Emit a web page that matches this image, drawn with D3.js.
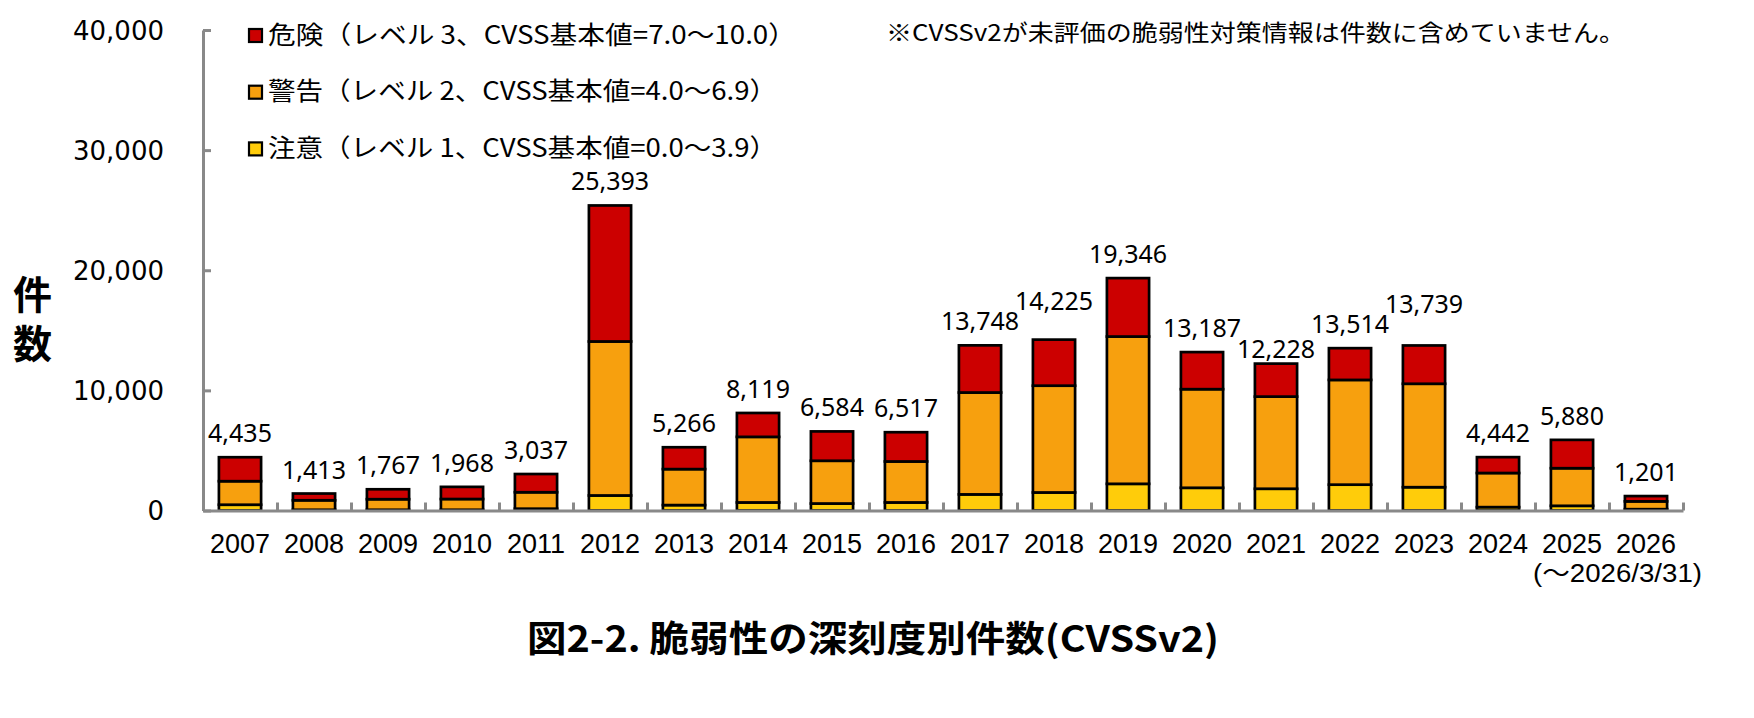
<!DOCTYPE html>
<html>
<head>
<meta charset="utf-8">
<script src="https://cdn.jsdelivr.net/npm/d3@7"></script>
<style>
  html, body { margin: 0; padding: 0; background: #ffffff; }
  svg { display: block; }
</style>
</head>
<body>
<script>
// ---- data ----
const categories = ["2007","2008","2009","2010","2011","2012","2013","2014","2015","2016",
                    "2017","2018","2019","2020","2021","2022","2023","2024","2025","2026"];
const level1 = [480, 60, 60, 60, 150, 1250, 450, 670, 580, 670,
                1340, 1500, 2220, 1890, 1810, 2150, 1940, 280, 390, 110];     // 注意
const level2 = [1960, 790, 880, 895, 1370, 12820, 2995, 5460, 3560, 3410,
                8480, 8890, 12260, 8210, 7670, 8720, 8610, 2840, 3130, 650];  // 警告
const level3 = [1995, 563, 827, 1013, 1517, 11323, 1821, 1989, 2444, 2437,
                3928, 3835, 4866, 3087, 2748, 2644, 3189, 1322, 2360, 441];   // 危険
const totals = [4435, 1413, 1767, 1968, 3037, 25393, 5266, 8119, 6584, 6517,
                13748, 14225, 19346, 13187, 12228, 13514, 13739, 4442, 5880, 1201];
const yTicks = [0, 10000, 20000, 30000, 40000];
const legendLabels = ["危険（レベル 3、CVSS基本値=7.0～10.0）",
                      "警告（レベル 2、CVSS基本値=4.0～6.9）",
                      "注意（レベル 1、CVSS基本値=0.0～3.9）"];
const lastCategoryNote = "(～2026/3/31)";
const yAxisTitle = "件数";
const noteText = "※CVSSv2が未評価の脆弱性対策情報は件数に含めていません。";
const chartTitle = "図2-2. 脆弱性の深刻度別件数(CVSSv2)";

// ---- layout ----
const W = 1754, H = 718;
const plot = { left: 203, right: 1683, top: 30, bottom: 510.5 };
const colors = { l1: "#FFCC0A", l2: "#F7A00E", l3: "#CC0000" };
const axisColor = "#898989";

const svg = d3.select("body").append("svg").attr("width", W).attr("height", H);
svg.append("rect").attr("width", W).attr("height", H).attr("fill", "#fff");

const x = d3.scaleBand().domain(categories).range([plot.left, plot.right])
  .paddingInner(0.43).paddingOuter(0.215);
const y = d3.scaleLinear().domain([0, 40000]).range([plot.bottom, plot.top]);

// stacked data
const rows = categories.map((c, i) => ({ cat: c, l1: level1[i], l2: level2[i], l3: level3[i], total: totals[i] }));
const stack = d3.stack().keys(["l1", "l2", "l3"]);
const series = stack(rows);

// bars
const g = svg.append("g");
series.forEach(s => {
  g.append("g").selectAll("rect").data(s).join("rect")
    .attr("x", d => x(d.data.cat))
    .attr("width", x.bandwidth())
    .attr("y", d => y(d[1]))
    .attr("height", d => Math.max(0, y(d[0]) - y(d[1])))
    .attr("fill", colors[s.key])
    .attr("stroke", "#000")
    .attr("stroke-width", 2.7);
});

// value labels (with simple collision avoidance between neighbours)
const fmt = d3.format(",");
const labels = svg.append("g").selectAll("text").data(rows).join("text")
  .attr("x", d => x(d.cat) + x.bandwidth() / 2)
  .attr("y", d => y(d.total) - 15)
  .attr("text-anchor", "middle")
  .attr("font-family", "'Noto Sans', sans-serif")
  .attr("font-size", 25)
  .attr("fill", "#000")
  .text(d => fmt(d.total));
const lab = labels.nodes().map((n, i) => ({ n, w: n.getComputedTextLength(), x: +n.getAttribute("x"), y: +n.getAttribute("y"), t: rows[i].total }));
for (let i = 1; i < lab.length; i++) {
  const a = lab[i - 1], b = lab[i];
  const hOverlap = Math.abs(b.x - a.x) < (a.w + b.w) / 2 + 2;
  if (hOverlap && Math.abs(b.y - a.y) < 20) {
    if (b.t > a.t) b.y = a.y - 20;
    else b.y = y(b.t) - 6;
    b.n.setAttribute("y", b.y);
  }
}

// y axis
const yAxis = d3.axisLeft(y).tickValues(yTicks).tickFormat(fmt)
  .tickSizeInner(-8).tickSizeOuter(0).tickPadding(39);
const yg = svg.append("g").attr("transform", `translate(${plot.left},0)`).call(yAxis);
yg.select(".domain").attr("stroke", axisColor).attr("stroke-width", 3);
yg.selectAll(".tick line").attr("stroke", axisColor).attr("stroke-width", 3);
yg.selectAll(".tick text")
  .attr("font-family", "'DejaVu Sans', sans-serif")
  .attr("font-size", 26).attr("fill", "#000")
  .attr("dy", "0.36em");

// x axis: line with boundary ticks
const xb = d3.scaleLinear().domain([0, categories.length]).range([plot.left, plot.right]);
const xAxis = d3.axisBottom(xb).ticks(categories.length).tickFormat("")
  .tickSizeInner(-8).tickSizeOuter(0);
const xg = svg.append("g").attr("transform", `translate(0,${plot.bottom})`).call(xAxis);
xg.select(".domain").attr("stroke", axisColor).attr("stroke-width", 3);
xg.selectAll(".tick line").attr("stroke", axisColor).attr("stroke-width", 3);
xg.selectAll(".tick").filter(d => d === 0).remove();

// category labels
svg.append("g").selectAll("text").data(categories).join("text")
  .attr("x", d => x(d) + x.bandwidth() / 2)
  .attr("y", 553)
  .attr("text-anchor", "middle")
  .attr("font-family", "'Liberation Sans', Arial, sans-serif")
  .attr("font-size", 27).attr("fill", "#000")
  .text(d => d);
svg.append("text")
  .attr("x", x(categories[categories.length - 1]) + x.bandwidth() / 2 + 56)
  .attr("y", 582)
  .attr("text-anchor", "end")
  .attr("font-family", "'Liberation Sans', 'Noto Sans CJK JP', sans-serif")
  .attr("font-size", 25).attr("fill", "#000")
  .attr("textLength", 169).attr("lengthAdjust", "spacingAndGlyphs")
  .text(lastCategoryNote);

// y axis title (vertical text)
svg.append("text")
  .attr("x", 32.5).attr("y", 275)
  .attr("writing-mode", "vertical-rl")
  .attr("letter-spacing", 10)
  .attr("font-family", "'Noto Sans CJK JP', sans-serif")
  .attr("font-weight", "bold")
  .attr("font-size", 39).attr("fill", "#000")
  .text(yAxisTitle);

// legend
const legendColors = [colors.l3, colors.l2, colors.l1];
const legendWidths = [528, 509, 509];
const lg = svg.append("g");
legendLabels.forEach((t, i) => {
  const cy = 35.5 + i * 56.7;
  lg.append("rect").attr("x", 249).attr("y", cy - 6.5).attr("width", 13).attr("height", 13)
    .attr("fill", legendColors[i]).attr("stroke", "#000").attr("stroke-width", 2.2);
  lg.append("text").attr("x", 268).attr("y", cy + 8)
    .attr("font-family", "'Noto Sans CJK JP', sans-serif")
    .attr("font-size", 25).attr("fill", "#000")
    .attr("textLength", legendWidths[i]).attr("lengthAdjust", "spacingAndGlyphs")
    .text(t);
});

// note
svg.append("text").attr("x", 886).attr("y", 41)
  .attr("font-family", "'Noto Sans CJK JP', sans-serif")
  .attr("font-size", 23).attr("fill", "#000")
  .attr("textLength", 739).attr("lengthAdjust", "spacingAndGlyphs")
  .text(noteText);

// title
svg.append("text").attr("x", 527).attr("y", 652)
  .attr("font-family", "'Noto Sans CJK JP', sans-serif")
  .attr("font-weight", "bold")
  .attr("font-size", 36).attr("fill", "#000")
  .attr("textLength", 692).attr("lengthAdjust", "spacingAndGlyphs")
  .text(chartTitle);
</script>
</body>
</html>
